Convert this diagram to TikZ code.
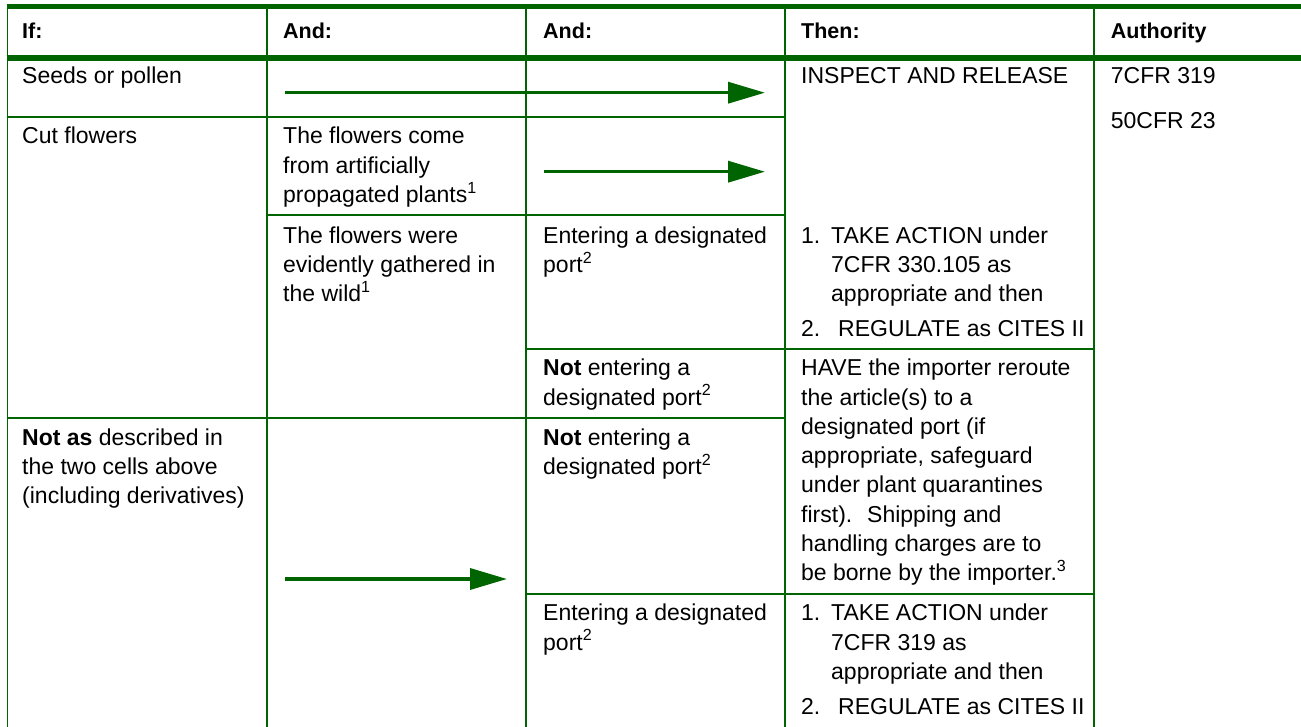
\documentclass[tikz,border=0pt]{standalone}
\usepackage{fontspec}
\setmainfont{Liberation Sans}
\usetikzlibrary{arrows.meta}

\definecolor{rulegreen}{RGB}{0,100,0}
\newcommand{\cell}[1]{\begin{tabular}[t]{@{}l@{}}#1\end{tabular}}

\tikzset{
  body/.style={anchor=base west, inner sep=0pt, font=\fontsize{23}{29.3}\selectfont},
  head/.style={anchor=base west, inner sep=0pt, font=\fontsize{21.5}{26}\selectfont\bfseries},
  thinrule/.style={rulegreen, line width=1.3pt},
  thickrule/.style={rulegreen, line width=5.5pt},
  flow/.style={arrows = -{Triangle[length=37pt,width=21pt]}, rulegreen, line width=3.6pt},
}

\begin{document}
\begin{tikzpicture}[x=1pt,y=-1pt]
\useasboundingbox (0,0) rectangle (1301,727);

            %\draw [help lines] (0,0) grid (1301,727);

            % table rules
            \foreach \x in {7.3,267,526,785,1094}
              \draw[thinrule] (\x,4) -- (\x,727);
            \draw[thickrule] (6.6,6.7) -- (1301,6.7);
            \draw[thickrule] (6.6,58) -- (1301,58);
            \draw[thinrule] (7,117) -- (785,117);
            \draw[thinrule] (267,215) -- (785,215);
            \draw[thinrule] (526,349) -- (1094,349);
            \draw[thinrule] (7,418) -- (785,418);
            \draw[thinrule] (526,594) -- (1094,594);

            \path   (22,38.7) node (hif) [head] {If:}
                    (283,38.7) node (hand) [head] {And:}
                    (543,38.7) node (handb) [head] {And:}
                    (801,38.7) node (hthen) [head] {Then:}
                    (1110.7,38.7) node (hauth) [head] {Authority};

            \path   (22,84) node (seeds) [body] {Seeds or pollen}
                    (22,144) node (cut) [body] {Cut flowers}
                    (22,445) node (notas) [body] {\cell{\textbf{Not as} described in\\the two cells above\\(including derivatives)}}
                    (283,144) node (come) [body] {\cell{The flowers come\\from artificially\\propagated plants\textsuperscript{1}}}
                    (283,243.3) node (wild) [body] {\cell{The flowers were\\evidently gathered in\\the wild\textsuperscript{1}}};

            \path   (543,243.3) node (entera) [body] {\cell{Entering a designated\\port\textsuperscript{2}}}
                    (543,375.7) node (notentera) [body] {\cell{\textbf{Not} entering a\\designated port\textsuperscript{2}}}
                    (543,445) node (notenterb) [body] {\cell{\textbf{Not} entering a\\designated port\textsuperscript{2}}}
                    (543,620.7) node (enterb) [body] {\cell{Entering a designated\\port\textsuperscript{2}}};

            \path   (801,84) node (release) [body] {INSPECT AND RELEASE}
                    (801,243.3) node (actiona) [body] {\cell{\makebox[30pt][l]{1.}TAKE ACTION under\\\hspace*{30pt}7CFR 330.105 as\\\hspace*{30pt}appropriate and then\\[5.5pt]\makebox[37pt][l]{2.}REGULATE as CITES II}}
                    (801,375.7) node (reroute) [body] {\cell{HAVE the importer reroute\\the article(s) to a\\designated port (if\\appropriate, safeguard\\under plant quarantines\\first).~ Shipping and\\handling charges are to\\be borne by the importer.\textsuperscript{3}}}
                    (801,620.7) node (actionb) [body] {\cell{\makebox[30pt][l]{1.}TAKE ACTION under\\\hspace*{30pt}7CFR 319 as\\\hspace*{30pt}appropriate and then\\[5.5pt]\makebox[37pt][l]{2.}REGULATE as CITES II}};

            \path   (1110.7,84) node (auth) [body] {\cell{7CFR 319\\[15pt]50CFR 23}};

            % arrow ends
            \path   (285,92.7) coordinate (seedsfrom)
                    (765,92.7) coordinate (seedsto)
                    (544,171.7) coordinate (comefrom)
                    (765,171.7) coordinate (cometo)
                    (285,579) coordinate (notasfrom)
                    (507,579) coordinate (notasto);

            \draw[flow] (node cs: name =seedsfrom ) -- (node cs:name =seedsto);
            \draw[flow] (node cs: name =comefrom ) -- (node cs:name =cometo);
            \draw[flow] (node cs: name =notasfrom ) -- (node cs:name =notasto);

\end{tikzpicture}
\end{document}
